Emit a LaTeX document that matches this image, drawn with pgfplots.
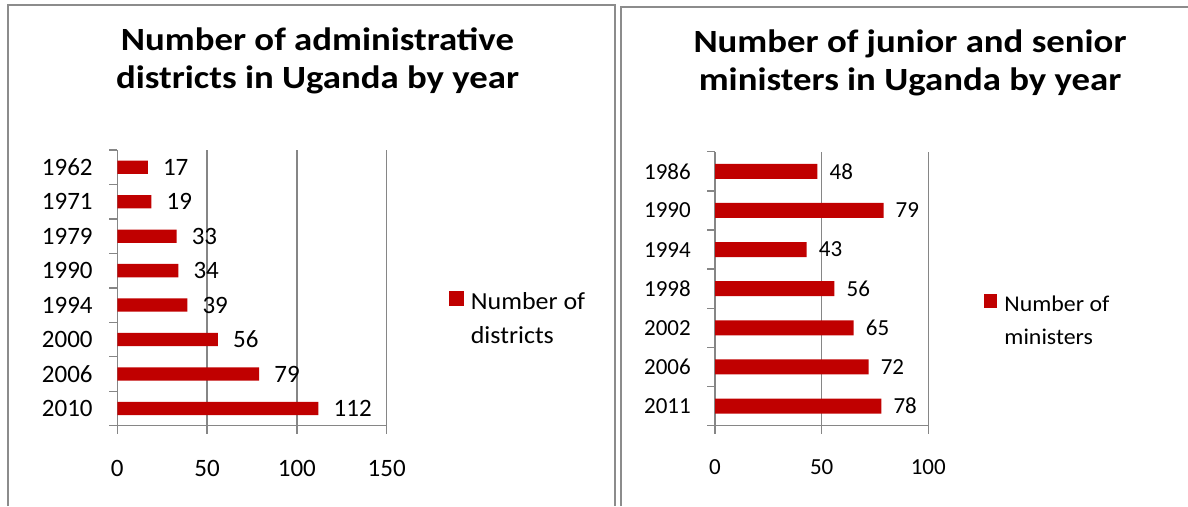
\documentclass[border=0pt]{standalone}
\usepackage{fontspec}
\setmainfont{Carlito}
\newfontfamily\titfont[FakeStretch=1.135]{Carlito}
\newfontfamily\legfont[FakeStretch=1.06]{Carlito}
\usepackage{pgfplots}
\pgfplotsset{compat=1.18}
\definecolor{barred}{HTML}{C00000}
\definecolor{axgray}{HTML}{868686}
\definecolor{boxgray}{HTML}{8C8C8C}
\newcommand\ticksize{\fontsize{25}{30}\selectfont}
\newcommand\ticksmall{\fontsize{23}{28}\selectfont}
\newcommand\legsize{\legfont\fontsize{24.5}{33.7}\selectfont}
\newcommand\legsmall{\legfont\fontsize{22.5}{32.4}\selectfont}
\newcommand\titsize{\titfont\fontsize{32.4}{39}\selectfont\bfseries}
\pgfplotsset{
  ubar/.style={
    scale only axis, xbar, enlargelimits=false,
    axis x line*=bottom, axis y line*=left,
    axis line style={axgray, line width=1.4pt},
    every tick/.style={axgray, line width=1.4pt},
    tick align=outside, major tick length=8pt,
    xmajorgrids, major grid style={axgray, line width=1.4pt},
    tick label style={font=\ticksize, black},
    /pgf/number format/assume math mode=true,
    xticklabel style={anchor=north, inner sep=0pt, yshift=-26pt},
    nodes near coords,
    nodes near coords style={font=\ticksize, black, anchor=west, inner sep=0pt},
    legend style={draw=none, fill=none, font=\legsize, inner sep=0pt},
    legend cell align=left,
  },
}
\begin{document}
\begin{tikzpicture}
\useasboundingbox (0,0) rectangle (1188pt,-506pt);
% frames round the two charts
\draw[boxgray, line width=2pt] (8pt,-506pt) -- (8pt,-4.5pt) -- (614.5pt,-4.5pt) -- (614.5pt,-506pt);
\draw[boxgray, line width=2pt] (620.5pt,-506pt) -- (620.5pt,-6.5pt) -- (1190pt,-6.5pt);
% titles
\node[anchor=base, inner sep=0pt, font=\titsize] at (317.5pt,-50.7pt) {Number of administrative};
\node[anchor=base, inner sep=0pt, font=\titsize] at (317.5pt,-88.3pt) {districts in Uganda by year};
\node[anchor=base, inner sep=0pt, font=\titsize] at (910pt,-52pt) {Number of junior and senior};
\node[anchor=base, inner sep=0pt, font=\titsize] at (910pt,-90.5pt) {ministers in Uganda by year};

\begin{axis}[ubar,
  at={(117.3pt,-425.7pt)}, anchor=south west,
  width=269.4pt, height=275.7pt,
  xmin=0, xmax=150, xtick={0,50,100,150},
  ymin=-0.5, ymax=7.5, ytick={-0.5,0.5,...,7.5},
  yticklabels={2010,2006,2000,1994,1990,1979,1971,1962,{}},
  yticklabel style={anchor=east, inner sep=0pt, xshift=-16.5pt, yshift=17.23pt},
  bar width=13.3pt,
  nodes near coords style={xshift=15pt},
  legend style={at={(axis description cs:1.23,0.462)}, anchor=west},
  legend image code/.code={\fill[barred] (0pt,-7.5pt) rectangle (15pt,7.5pt);},
]
\addplot[fill=barred, draw=none] coordinates {
  (112,0) (79,1) (56,2) (39,3) (34,4) (33,5) (19,6) (17,7)};
\addlegendentry{\begin{tabular}[t]{@{\hspace{5pt}}l@{}}Number of\\districts\end{tabular}}
\end{axis}

\begin{axis}[ubar,
  at={(715pt,-425.7pt)}, anchor=south west,
  width=213.3pt, height=274pt,
  xmin=0, xmax=100, xtick={0,50,100},
  ymin=-0.5, ymax=6.5, ytick={-0.5,0.5,...,6.5},
  yticklabels={2011,2006,2002,1998,1994,1990,1986,{}},
  tick label style={font=\ticksmall},
  yticklabel style={anchor=east, inner sep=0pt, xshift=-16pt, yshift=19.57pt},
  bar width=15pt,
  nodes near coords style={xshift=12pt, font=\ticksmall},
  legend style={at={(axis description cs:1.26,0.455)}, anchor=west, font=\legsmall},
  legend image code/.code={\fill[barred] (0pt,-7.3pt) rectangle (13.5pt,7.3pt);},
]
\addplot[fill=barred, draw=none] coordinates {
  (78,0) (72,1) (65,2) (56,3) (43,4) (79,5) (48,6)};
\addlegendentry{\begin{tabular}[t]{@{\hspace{5pt}}l@{}}Number of\\ministers\end{tabular}}
\end{axis}
\end{tikzpicture}
\end{document}
